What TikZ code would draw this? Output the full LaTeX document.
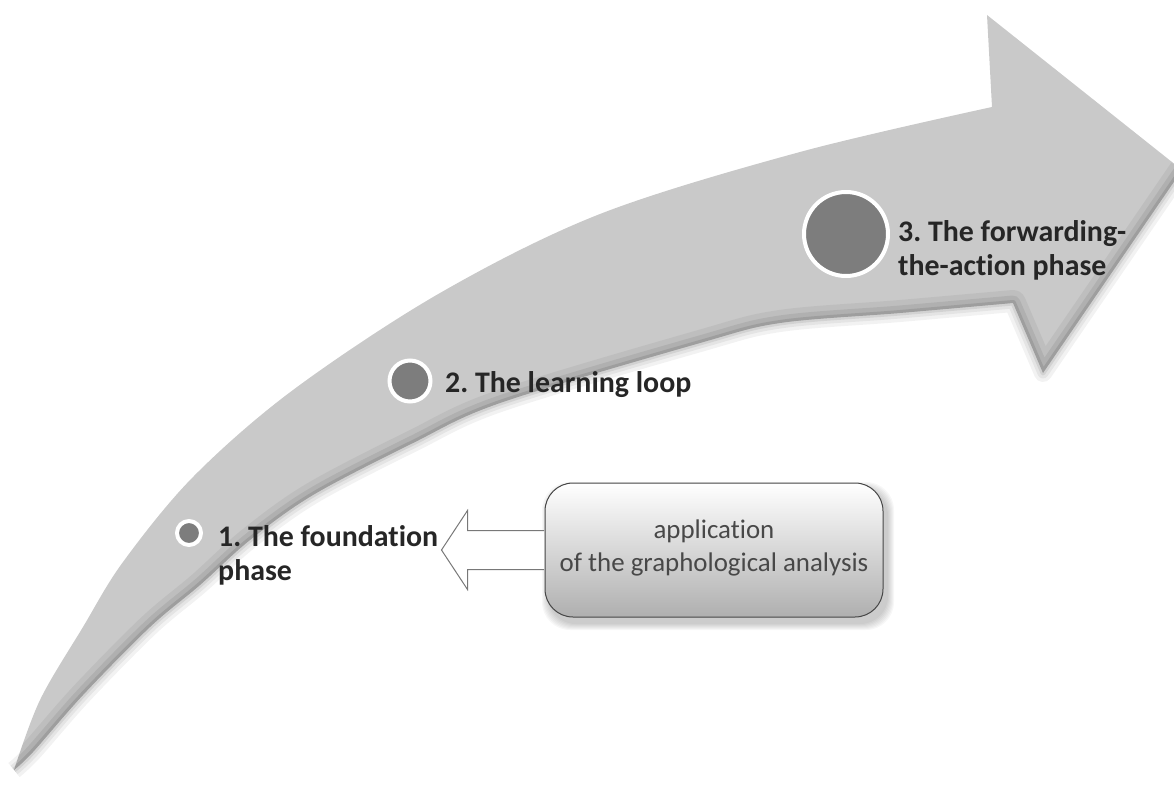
\documentclass[tikz,border=0pt]{standalone}
\usepackage{fontspec}
\setmainfont{Carlito}[Ligatures=NoCommon]
\usetikzlibrary{calc}
\frenchspacing
\definecolor{shaftgray}{RGB}{201,201,201}
\definecolor{dotgray}{RGB}{125,125,125}
\definecolor{labelink}{RGB}{38,38,38}
\definecolor{boxink}{RGB}{72,72,72}
\definecolor{boxline}{RGB}{70,70,70}
\definecolor{boxbottom}{RGB}{175,175,175}
\definecolor{hollowline}{RGB}{120,120,120}

\begin{document}
\begin{tikzpicture}[x=1bp,y=-1bp,
  dot/.style={circle, fill=dotgray, draw=white, line width=4bp, inner sep=0pt},
  phase/.style={anchor=base west, inner sep=0pt, align=left, text=labelink,
    font=\fontsize{30}{34}\selectfont\bfseries},
  appbox/.style={rounded corners=28bp, draw=boxline, line width=1bp,
    top color=white, bottom color=boxbottom,
    minimum width=338bp, minimum height=134bp, inner sep=0pt},
  apptext/.style={align=center, text=boxink, inner sep=0pt,
    font=\fontsize{27}{33}\selectfont},
  hollow/.style={fill=white, draw=hollowline, line width=1bp, line join=miter},
]
\useasboundingbox (0,0) rectangle (1174,789);

% outline of the rising arrow
\path[save path=\bigarrow]
  plot[smooth, tension=0.55] coordinates {(14,770) (40,700) (83,627) (123,562)
      (193,477) (293,390) (440,293) (600,214) (800,152) (992,107)}
  -- (987,15) -- (1182,170) -- (1043,373) -- (1013,303)
  -- plot[smooth, tension=0.55] coordinates {(1013,303) (900,313) (780,323)
      (700,343) (500,403) (413,443) (313,495) (250,540) (200,585) (150,627)
      (83,695) (33,752) (14,770)}
  -- cycle;

% its shaded lower rim
\path[save path=\lowerrim]
  (1182,170) -- (1043,373) -- (1013,303)
  -- plot[smooth, tension=0.55] coordinates {(1013,303) (900,313) (780,323)
      (700,343) (500,403) (413,443) (313,495) (250,540) (200,585) (150,627)
      (83,695) (33,752) (14,770)};

% soft shadow outside the rim
\draw[use path=\lowerrim, black, opacity=0.05, line width=18bp, line join=round];
\draw[use path=\lowerrim, black, opacity=0.06, line width=11bp, line join=round];
\draw[use path=\lowerrim, black, opacity=0.08, line width=5bp, line join=round];

\fill[use path=\bigarrow, shaftgray];

% darker band just inside the rim
\begin{scope}
  \clip[use path=\bigarrow];
  \draw[use path=\lowerrim, black, opacity=0.05, line width=26bp, line join=round];
  \draw[use path=\lowerrim, black, opacity=0.07, line width=15bp, line join=round];
  \draw[use path=\lowerrim, black, opacity=0.10, line width=6bp, line join=round];
\end{scope}

% phase markers
\node[dot, minimum size=24bp] (d1) at (189,533) {};
\node[dot, minimum size=41bp] (d2) at (410,381) {};
\node[dot, minimum size=84bp] (d3) at (846,234) {};

\node[phase] (p1) at (218,580) {1. The foundation\\phase};
\node[phase] (p2) at (445,392) {2. The learning loop};
\node[phase] (p3) at (898,275) {3. The forwarding-\\the-action phase};

% box with its drop shadow
\foreach \k in {1,...,7}{
  \fill[black, opacity=0.03, rounded corners=28bp]
    (549-\k,489-\k) rectangle (887+\k,623+\k);
}
\node[appbox] (app) at (714,550) {};
\node[apptext] (apptxt) at ($(app.center)+(0,-2)$)
  {application\\of the graphological analysis};

% hollow block arrow from the box to the first phase
\draw[hollow] ($(app.west)+(-0.5,-19.5)$) -- ++(-76.5,0) -- ++(0,-20)
  -- ++(-26,39.5) -- ++(26,39.5) -- ++(0,-20)
  -- ($(app.west)+(-0.5,19.5)$);
\end{tikzpicture}
\end{document}
